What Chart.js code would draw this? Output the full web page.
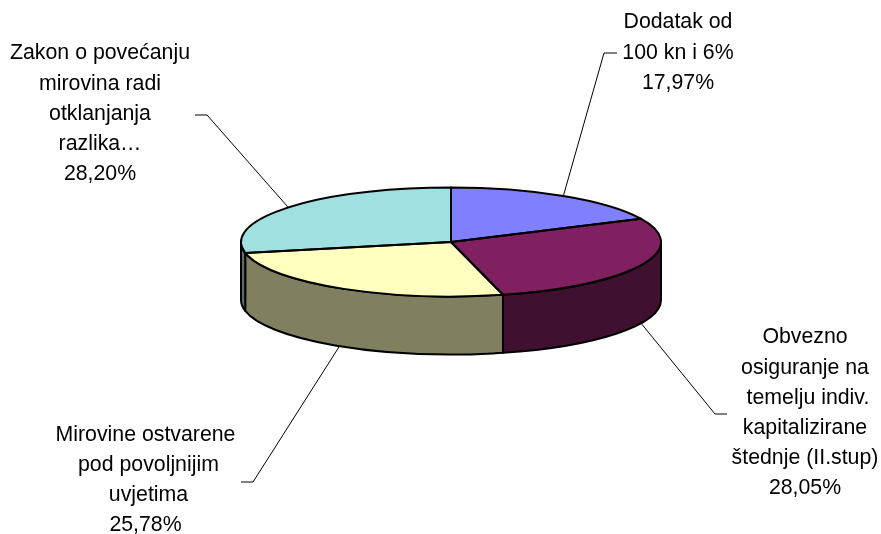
<!DOCTYPE html>
<html>
<head>
<meta charset="utf-8">
<title>Mirovine</title>
<script src="https://cdn.jsdelivr.net/npm/chart.js@4/dist/chart.umd.min.js"></script>
<style>
  html, body { margin: 0; padding: 0; background: #ffffff; }
  canvas { display: block; }
</style>
</head>
<body>
<canvas id="pie" width="881" height="534"></canvas>
<script>
// data
const labelLines = [
  ['Dodatak od', '100 kn i 6%'],
  ['Obvezno', 'osiguranje na', ' temelju indiv.', 'kapitalizirane', 'štednje (II.stup)'],
  ['Mirovine ostvarene', ' pod povoljnijim', ' uvjetima'],
  ['Zakon o povećanju', 'mirovina radi', 'otklanjanja', 'razlika…']
];
const shares = [17.97, 28.05, 25.78, 28.20];

// colours of the top face and of the side wall
const topColors = ['#8080ff', '#802060', '#ffffc0', '#a0e0e0'];
const sideColors = ['#404080', '#401030', '#808060', '#507070'];

// pie geometry
const RADIUS = 210;
const SQUASH = 54.5 / 210;
const DEPTH = 58;
const FONT_SIZE = 21.3;
const LINE_HEIGHT = 30.2;

// where each callout text sits and where its leader line bends
const callouts = [
  { x: 678, y: 22.5, elbow: [604, 53], end: [617, 53] },
  { x: 805, y: 337.5, elbow: [715, 414], end: [727, 414] },
  { x: 145.5, y: 435, elbow: [253, 482], end: [241, 482] },
  { x: 100, y: 53.5, elbow: [207, 115], end: [195, 115] }
];

function formatShare(v) {
  return v.toFixed(2).replace('.', ',') + '%';
}

function edgePath(ctx, arc, a, b, dy) {
  ctx.ellipse(arc.x, arc.y + dy, arc.outerRadius, arc.outerRadius * SQUASH, 0, a, b);
}

const tiltPlugin = {
  id: 'tilt',
  beforeDatasetsDraw(chart) {
    const ctx = chart.ctx;
    const arcs = chart.getDatasetMeta(0).data;

    // side walls, only the part facing the viewer
    ctx.save();
    ctx.lineWidth = 2;
    ctx.strokeStyle = '#000000';
    ctx.lineJoin = 'round';
    arcs.forEach((arc, i) => {
      const a = Math.max(arc.startAngle, 0);
      const b = Math.min(arc.endAngle, Math.PI);
      if (a >= b) return;
      ctx.beginPath();
      edgePath(ctx, arc, a, b, 0);
      ctx.lineTo(arc.x + arc.outerRadius * Math.cos(b), arc.y + arc.outerRadius * SQUASH * Math.sin(b) + DEPTH);
      ctx.ellipse(arc.x, arc.y + DEPTH, arc.outerRadius, arc.outerRadius * SQUASH, 0, b, a, true);
      ctx.closePath();
      ctx.fillStyle = sideColors[i];
      ctx.fill();
      ctx.stroke();
    });
    ctx.restore();

    // the library draws the slices squashed into an ellipse
    const first = arcs[0];
    ctx.save();
    ctx.translate(first.x, first.y);
    ctx.scale(1, SQUASH);
    ctx.translate(-first.x, -first.y);
  },
  afterDatasetsDraw(chart) {
    const ctx = chart.ctx;
    ctx.restore();

    const arcs = chart.getDatasetMeta(0).data;

    // outlines of the top face, stroked here so the width stays even
    ctx.save();
    ctx.lineWidth = 2;
    ctx.strokeStyle = '#000000';
    ctx.lineJoin = 'round';
    arcs.forEach((arc) => {
      ctx.beginPath();
      ctx.moveTo(arc.x, arc.y);
      edgePath(ctx, arc, arc.startAngle, arc.endAngle, 0);
      ctx.closePath();
      ctx.stroke();
    });
    ctx.restore();

    // leader lines and callout texts
    ctx.save();
    ctx.lineWidth = 1;
    ctx.strokeStyle = '#000000';
    ctx.fillStyle = '#000000';
    ctx.font = FONT_SIZE + 'px "Liberation Sans", Arial, sans-serif';
    ctx.textAlign = 'center';
    ctx.textBaseline = 'middle';
    arcs.forEach((arc, i) => {
      const mid = (arc.startAngle + arc.endAngle) / 2;
      const c = callouts[i];
      const sx = arc.x + arc.outerRadius * Math.cos(mid);
      let sy = arc.y + arc.outerRadius * SQUASH * Math.sin(mid);
      if (Math.sin(mid) > 0) sy += DEPTH;
      ctx.beginPath();
      ctx.moveTo(sx, sy);
      ctx.lineTo(c.elbow[0], c.elbow[1]);
      ctx.lineTo(c.end[0], c.end[1]);
      ctx.stroke();

      const lines = labelLines[i].concat(formatShare(shares[i]));
      lines.forEach((line, n) => {
        ctx.fillText(line, c.x, c.y + n * LINE_HEIGHT);
      });
    });
    ctx.restore();
  }
};

new Chart(document.getElementById('pie').getContext('2d'), {
  type: 'pie',
  data: {
    labels: labelLines.map(l => l.join(' ')),
    datasets: [{
      data: shares,
      backgroundColor: topColors,
      borderWidth: 0
    }]
  },
  options: {
    responsive: false,
    animation: false,
    radius: RADIUS,
    layout: { padding: { left: 21, bottom: 50 } },
    plugins: {
      legend: { display: false },
      tooltip: { enabled: false }
    }
  },
  plugins: [tiltPlugin]
});
</script>
</body>
</html>
